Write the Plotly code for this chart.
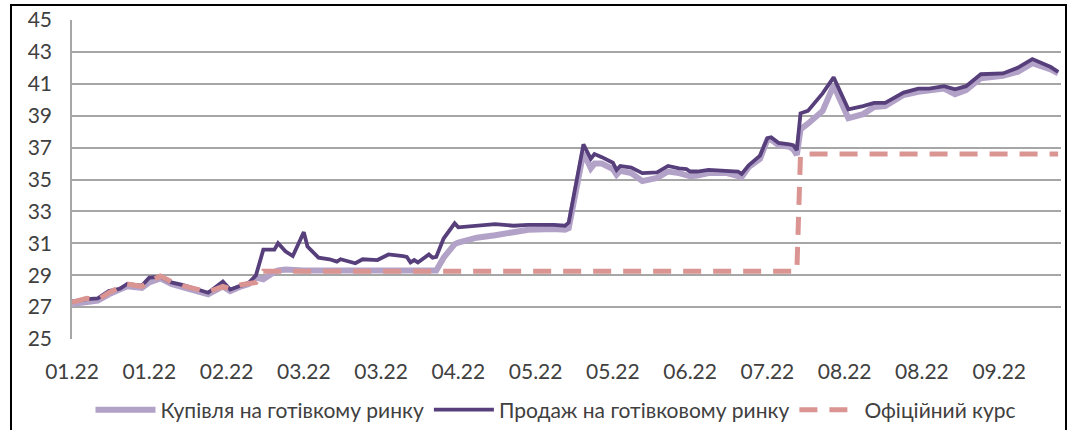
import plotly.graph_objects as go

dates = [
    "2022-01-03", "2022-01-07", "2022-01-10", "2022-01-13", "2022-01-16", "2022-01-18",
    "2022-01-22", "2022-01-24", "2022-01-27", "2022-01-30", "2022-02-02", "2022-02-06",
    "2022-02-09", "2022-02-13", "2022-02-15", "2022-02-18", "2022-02-20", "2022-02-22",
    "2022-02-23", "2022-02-24", "2022-02-27", "2022-02-28", "2022-03-02", "2022-03-04",
    "2022-03-07", "2022-03-08", "2022-03-11", "2022-03-14", "2022-03-16", "2022-03-17",
    "2022-03-21", "2022-03-23", "2022-03-27", "2022-03-30", "2022-04-03", "2022-04-04",
    "2022-04-05", "2022-04-06", "2022-04-07", "2022-04-10", "2022-04-11", "2022-04-12",
    "2022-04-14", "2022-04-17", "2022-04-18", "2022-04-23", "2022-04-28", "2022-05-03",
    "2022-05-07", "2022-05-14", "2022-05-17", "2022-05-18", "2022-05-22", "2022-05-24",
    "2022-05-25", "2022-05-27", "2022-05-30", "2022-05-31", "2022-06-01", "2022-06-04",
    "2022-06-07", "2022-06-11", "2022-06-14", "2022-06-17", "2022-06-19", "2022-06-20",
    "2022-06-22", "2022-06-25", "2022-06-30", "2022-07-03", "2022-07-04", "2022-07-06",
    "2022-07-09", "2022-07-10", "2022-07-11", "2022-07-12", "2022-07-14", "2022-07-17",
    "2022-07-18", "2022-07-19", "2022-07-20", "2022-07-22", "2022-07-26", "2022-07-29",
    "2022-08-02", "2022-08-06", "2022-08-09", "2022-08-12", "2022-08-15", "2022-08-17",
    "2022-08-21", "2022-08-24", "2022-08-28", "2022-08-31", "2022-09-03", "2022-09-07",
    "2022-09-13", "2022-09-17", "2022-09-21", "2022-09-26", "2022-09-28",
]

buy = [
    27.2, 27.35, 27.4, 27.8, 28.05, 28.3,
    28.2, 28.55, 28.8, 28.45, 28.25, 28.0,
    27.8, 28.3, 28.0, 28.3, 28.45, 28.85,
    28.8, 28.75, 29.2, 29.3, 29.35, 29.3,
    29.3, 29.3, 29.3, 29.3, 29.3, 29.3,
    29.3, 29.3, 29.3, 29.3, 29.3, 29.3,
    29.3, 29.3, 29.3, 29.3, 29.3, 29.3,
    30.1, 30.95, 31.05, 31.35, 31.5, 31.65,
    31.85, 31.9, 31.85, 31.95, 36.7, 35.7,
    36.0, 36.0, 35.65, 35.3, 35.55, 35.4,
    34.9, 35.1, 35.5, 35.4, 35.25, 35.2,
    35.25, 35.4, 35.4, 35.25, 35.15, 35.8,
    36.3, 36.9, 37.5, 37.5, 37.15, 37.05,
    36.9, 36.55, 38.15, 38.5, 39.3, 40.9,
    38.85, 39.1, 39.55, 39.6, 40.0, 40.3,
    40.5, 40.55, 40.7, 40.35, 40.6, 41.35,
    41.5, 41.75, 42.3, 41.9, 41.65,
]

sell = [
    27.35, 27.5, 27.55, 28.0, 28.15, 28.45,
    28.35, 28.85, 28.9, 28.55, 28.4, 28.1,
    27.9, 28.6, 28.1, 28.35, 28.5, 29.0,
    29.9, 30.6, 30.6, 31.0, 30.5, 30.2,
    31.7, 30.8, 30.1, 30.0, 29.85, 30.0,
    29.75, 30.0, 29.95, 30.3, 30.2, 30.15,
    29.8, 29.95, 29.8, 30.3, 30.1, 30.15,
    31.3, 32.25, 32.0, 32.1, 32.2, 32.1,
    32.15, 32.15, 32.1, 32.3, 37.2, 36.3,
    36.6, 36.4, 36.05, 35.6, 35.85, 35.75,
    35.4, 35.45, 35.85, 35.7, 35.65, 35.5,
    35.5, 35.6, 35.55, 35.5, 35.35, 35.9,
    36.5, 37.05, 37.6, 37.65, 37.3, 37.2,
    37.15, 36.85, 39.15, 39.3, 40.4, 41.4,
    39.4, 39.6, 39.8, 39.8, 40.2, 40.45,
    40.7, 40.7, 40.85, 40.65, 40.85, 41.6,
    41.65, 42.0, 42.55, 42.05, 41.75,
]

official = [
    27.3, 27.55, 27.45, 27.9, 28.25, 28.45,
    28.3, 28.6, 28.95, 28.6, 28.35, 28.1,
    27.95, 28.3, 28.15, 28.4, 28.5, 28.55,
    28.9, 29.25, 29.25, 29.25, 29.25, 29.25,
    29.25, 29.25, 29.25, 29.25, 29.25, 29.25,
    29.25, 29.25, 29.25, 29.25, 29.25, 29.25,
    29.25, 29.25, 29.25, 29.25, 29.25, 29.25,
    29.25, 29.25, 29.25, 29.25, 29.25, 29.25,
    29.25, 29.25, 29.25, 29.25, 29.25, 29.25,
    29.25, 29.25, 29.25, 29.25, 29.25, 29.25,
    29.25, 29.25, 29.25, 29.25, 29.25, 29.25,
    29.25, 29.25, 29.25, 29.25, 29.25, 29.25,
    29.25, 29.25, 29.25, 29.25, 29.25, 29.25,
    29.25, 29.25, 36.6, 36.6, 36.6, 36.6,
    36.6, 36.6, 36.6, 36.6, 36.6, 36.6,
    36.6, 36.6, 36.6, 36.6, 36.6, 36.6,
    36.6, 36.6, 36.6, 36.6, 36.6,
]

tick_dates = ["2022-01-03", "2022-01-24", "2022-02-14", "2022-03-07", "2022-03-28",
              "2022-04-18", "2022-05-09", "2022-05-30", "2022-06-20", "2022-07-11",
              "2022-08-01", "2022-08-22", "2022-09-12"]
tick_labels = ["01.22", "01.22", "02.22", "03.22", "03.22", "04.22", "05.22",
               "05.22", "06.22", "07.22", "08.22", "08.22", "09.22"]

series_names = ["Купівля на готівкому ринку", "Продаж на готівковому ринку", "Офіційний курс"]

FONT = "Lato"
TXT = "#404040"
fig = go.Figure()
fig.add_trace(go.Scatter(x=dates, y=buy, mode="lines", name=series_names[0],
                         line=dict(color="#b3a2c8", width=6)))
fig.add_trace(go.Scatter(x=dates, y=sell, mode="lines", name=series_names[1],
                         line=dict(color="#573f7c", width=3.8)))
fig.add_trace(go.Scatter(x=dates, y=official, mode="lines", name=series_names[2],
                         line=dict(color="#da9593", width=5, dash="18px,12px")))

W, H = 1075, 430
L, R, T, B = 72, 14, 20, 91
pw, ph = W - L - R, H - T - B

def px_x(p):
    return (p - L) / pw

def px_y(p):
    return (H - B - p) / ph

fig.update_layout(
    width=W, height=H, autosize=False,
    margin=dict(l=L, r=R, t=T, b=B, autoexpand=False),
    paper_bgcolor="white", plot_bgcolor="white",
    font=dict(family=FONT, size=21, color=TXT),
    showlegend=True,
    legend=dict(orientation="h", xref="container", yref="container",
                x=556 / W, xanchor="center", y=(H - 410) / H, yanchor="middle",
                font=dict(family=FONT, size=21, color=TXT),
                itemwidth=60, tracegroupgap=0, bgcolor="rgba(0,0,0,0)"),
    xaxis=dict(type="date", range=["2022-01-03", "2022-09-28 19:00"],
               tickmode="array", tickvals=tick_dates, ticktext=tick_labels,
               showgrid=False, zeroline=False, showline=False, ticks="",
               automargin=False, ticklabelstandoff=18,
               tickfont=dict(family=FONT, size=21, color=TXT)),
    yaxis=dict(range=[25, 45], dtick=2, tick0=25, showgrid=True, gridcolor="#a6a6a6",
               gridwidth=1.5, zeroline=False, showline=True, linecolor="#a6a6a6",
               linewidth=1.5, ticks="", ticklabelstandoff=14, automargin=False,
               tickfont=dict(family=FONT, size=21, color=TXT)),
    shapes=[dict(type="rect", xref="paper", yref="paper",
                 x0=px_x(11), x1=px_x(1066), y0=px_y(445), y1=px_y(5),
                 line=dict(color="black", width=2), fillcolor="rgba(0,0,0,0)", layer="above")],
)

fig.write_html("out.html", config={"displayModeBar": False},
               post_script="document.body.style.margin='0px';")
